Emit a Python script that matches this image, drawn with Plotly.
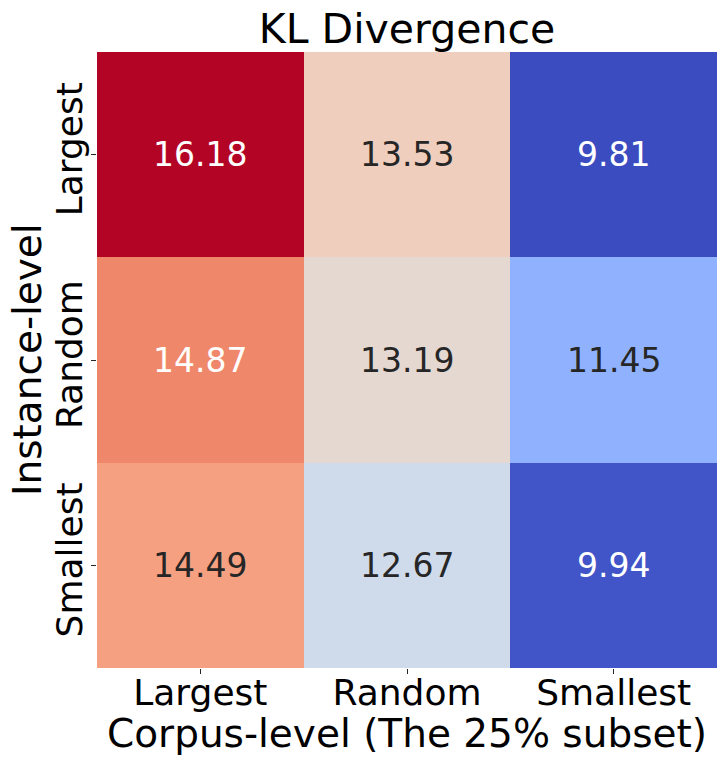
import plotly.graph_objects as go

# ---- data ----
corpus_levels = ["Largest", "Random", "Smallest"]      # x (columns)
instance_levels = ["Largest", "Random", "Smallest"]    # y (rows, top to bottom)
kl_instance_largest = [16.18, 13.53, 9.81]
kl_instance_random = [14.87, 13.19, 11.45]
kl_instance_smallest = [14.49, 12.67, 9.94]

z = [kl_instance_largest, kl_instance_random, kl_instance_smallest]

# matplotlib "coolwarm" colormap stops
coolwarm_rgb = [
    (59, 76, 192), (68, 90, 204), (77, 104, 215), (87, 117, 225), (98, 130, 234),
    (108, 142, 241), (119, 154, 247), (130, 165, 251), (141, 176, 254), (152, 185, 255),
    (163, 194, 255), (174, 201, 253), (184, 208, 249), (194, 213, 244), (204, 217, 238),
    (213, 219, 230), (221, 221, 221), (229, 216, 209), (236, 211, 197), (241, 204, 185),
    (245, 196, 173), (247, 187, 160), (247, 177, 148), (247, 166, 135), (244, 154, 123),
    (241, 141, 111), (236, 127, 99), (229, 112, 88), (222, 96, 77), (213, 80, 66),
    (203, 62, 56), (192, 40, 47), (180, 4, 38),
]
n = len(coolwarm_rgb) - 1
colorscale = [[i / n, "rgb(%d,%d,%d)" % c] for i, c in enumerate(coolwarm_rgb)]

zmin = min(min(r) for r in z)
zmax = max(max(r) for r in z)


def cmap(v):
    t = (v - zmin) / (zmax - zmin)
    t = max(0.0, min(1.0, t))
    pos = t * n
    i = min(int(pos), n - 1)
    f = pos - i
    a, b = coolwarm_rgb[i], coolwarm_rgb[i + 1]
    return tuple(a[k] + (b[k] - a[k]) * f for k in range(3))


def text_color(v):
    rgb = cmap(v)
    lin = []
    for c in rgb:
        c = c / 255.0
        lin.append(c / 12.92 if c <= 0.03928 else ((c + 0.055) / 1.055) ** 2.4)
    lum = 0.2126 * lin[0] + 0.7152 * lin[1] + 0.0722 * lin[2]
    return "#262626" if lum > 0.408 else "white"


FONT = "DejaVu Sans"
# page body has an 8px margin, so the figure is drawn 8px right/down
W, H = 719, 757
ML, MR, MT, MB = 89, 10, 44, 97
PLOT_LEFT_SCREEN = 97

fig = go.Figure(
    go.Heatmap(
        z=z,
        x=corpus_levels,
        y=instance_levels,
        colorscale=colorscale,
        zmin=zmin,
        zmax=zmax,
        showscale=False,
        hoverongaps=False,
    )
)

annotations = []
for i, row in enumerate(z):
    for j, val in enumerate(row):
        annotations.append(
            dict(
                x=corpus_levels[j],
                y=instance_levels[i],
                xref="x",
                yref="y",
                text=f"{val:.2f}",
                showarrow=False,
                font=dict(family=FONT, size=33, color=text_color(val)),
            )
        )

# axis titles
annotations.append(
    dict(
        text="Corpus-level (The 25% subset)",
        xref="paper", yref="paper",
        x=0.5, y=0, xanchor="center", yanchor="middle",
        yshift=-65,
        showarrow=False,
        font=dict(family=FONT, size=39, color="black"),
    )
)
annotations.append(
    dict(
        text="Instance-level",
        xref="paper", yref="paper",
        x=0, y=0.5, xanchor="center", yanchor="middle",
        xshift=-(PLOT_LEFT_SCREEN - 27),
        textangle=-90,
        showarrow=False,
        font=dict(family=FONT, size=39, color="black"),
    )
)

fig.update_layout(
    width=W,
    height=H,
    margin=dict(l=ML, r=MR, t=MT, b=MB, autoexpand=False),
    paper_bgcolor="white",
    plot_bgcolor="white",
    font=dict(family=FONT, color="black"),
    title=dict(
        text="KL Divergence",
        x=0.5,
        xref="paper",
        xanchor="center",
        y=1 - 21 / H,
        yref="container",
        yanchor="middle",
        font=dict(family=FONT, size=41, color="black"),
    ),
    annotations=annotations,
)

fig.update_xaxes(
    automargin=False,
    ticks="outside",
    ticklen=5,
    tickcolor="#262626",
    ticklabelstandoff=-12,
    tickfont=dict(family=FONT, size=36, color="black"),
    showgrid=False,
    zeroline=False,
    showline=False,
)
fig.update_yaxes(
    automargin=False,
    autorange="reversed",
    ticks="outside",
    ticklen=5,
    tickcolor="#262626",
    tickangle=-90,
    ticklabelstandoff=-5,
    tickfont=dict(family=FONT, size=36, color="black"),
    showgrid=False,
    zeroline=False,
    showline=False,
)

fig.write_html("out.html")
